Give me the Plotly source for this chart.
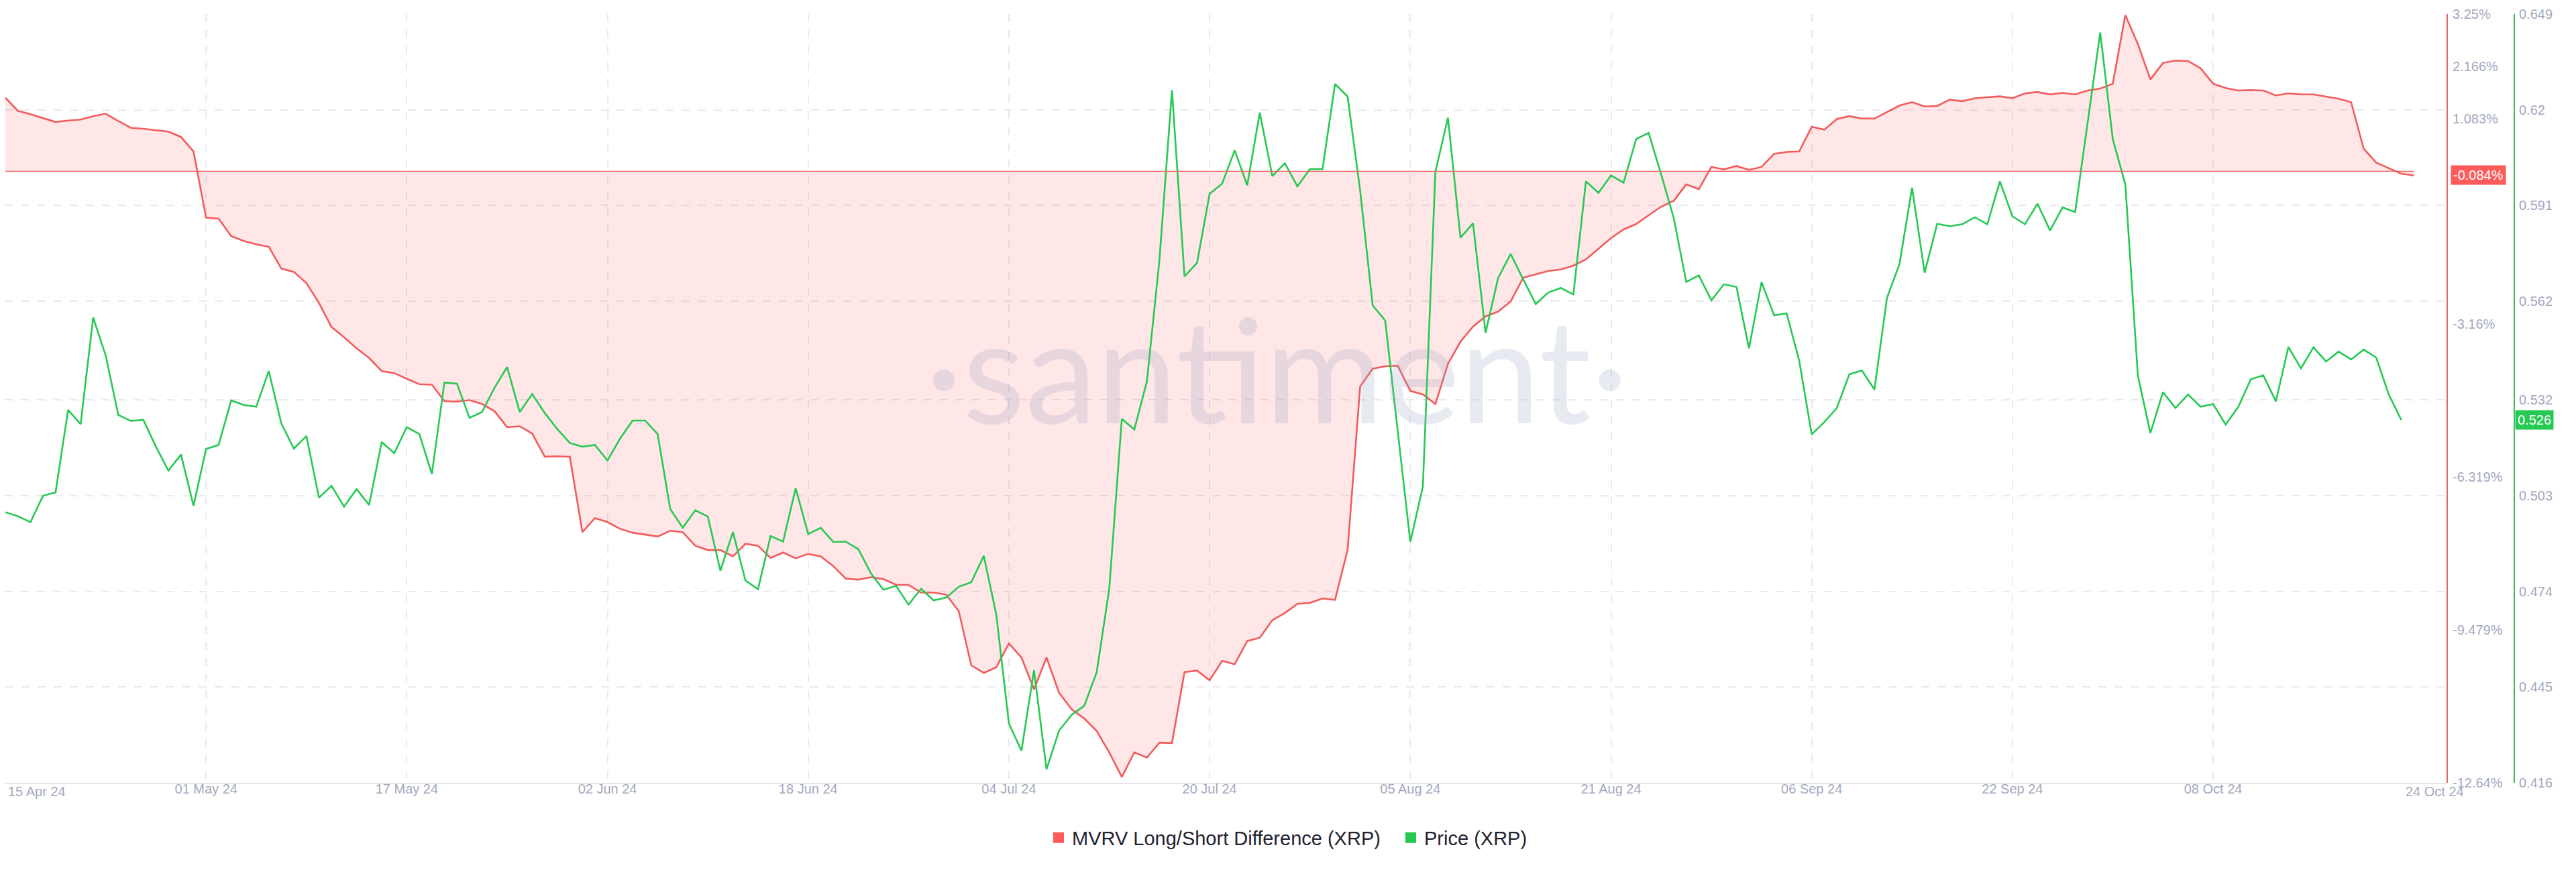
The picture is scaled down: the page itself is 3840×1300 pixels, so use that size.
import pandas as pd
import plotly.graph_objects as go

start_date = "2024-04-15"

mvrv_diff = [
    1.52, 1.25, 1.18, 1.10, 1.02, 1.05, 1.07, 1.14, 1.19, 1.04,
    0.90, 0.88, 0.85, 0.82, 0.71, 0.41, -0.96, -0.98, -1.34, -1.44,
    -1.51, -1.56, -2.01, -2.08, -2.31, -2.72, -3.22, -3.43, -3.66, -3.86,
    -4.13, -4.17, -4.29, -4.40, -4.41, -4.75, -4.76, -4.73, -4.81, -4.96,
    -5.29, -5.27, -5.42, -5.90, -5.89, -5.90, -7.46, -7.17, -7.25, -7.39,
    -7.47, -7.51, -7.55, -7.43, -7.46, -7.74, -7.83, -7.83, -7.96, -7.70,
    -7.74, -7.99, -7.88, -8.00, -7.91, -7.96, -8.16, -8.42, -8.44, -8.39,
    -8.43, -8.55, -8.55, -8.71, -8.71, -8.75, -9.09, -10.21, -10.37, -10.25,
    -9.76, -10.05, -10.71, -10.05, -10.78, -11.12, -11.31, -11.57, -12.01, -12.52,
    -12.01, -12.12, -11.81, -11.82, -10.35, -10.32, -10.52, -10.12, -10.19, -9.71,
    -9.64, -9.28, -9.13, -8.94, -8.92, -8.83, -8.86, -7.83, -4.45, -4.08,
    -4.03, -4.02, -4.54, -4.61, -4.81, -3.98, -3.52, -3.21, -3.00, -2.90,
    -2.69, -2.20, -2.13, -2.06, -2.03, -1.95, -1.82, -1.60, -1.38, -1.20,
    -1.09, -0.91, -0.73, -0.61, -0.27, -0.37, 0.09, 0.04, 0.11, 0.03,
    0.09, 0.36, 0.40, 0.41, 0.92, 0.86, 1.08, 1.14, 1.09, 1.09,
    1.23, 1.36, 1.43, 1.34, 1.35, 1.48, 1.45, 1.51, 1.53, 1.55,
    1.51, 1.61, 1.64, 1.59, 1.62, 1.59, 1.67, 1.71, 1.81, 3.23,
    2.63, 1.90, 2.24, 2.29, 2.28, 2.13, 1.81, 1.72, 1.67, 1.68,
    1.67, 1.57, 1.61, 1.59, 1.59, 1.55, 1.50, 1.43, 0.47, 0.18,
    0.07, -0.05, -0.084,
]

price = [
    0.498, 0.4968, 0.495, 0.503, 0.504, 0.529, 0.5247, 0.557, 0.5455, 0.5275,
    0.5257, 0.526, 0.5179, 0.5106, 0.5155, 0.500, 0.5172, 0.5184, 0.5319, 0.5305,
    0.530, 0.5408, 0.5249, 0.5173, 0.5211, 0.5024, 0.506, 0.4997, 0.505, 0.5002,
    0.5193, 0.5159, 0.5238, 0.5217, 0.5096, 0.5373, 0.537, 0.5266, 0.5284, 0.5358,
    0.542, 0.5284, 0.5338, 0.5281, 0.5232, 0.519, 0.5179, 0.5184, 0.5137, 0.5203,
    0.5258, 0.5258, 0.5217, 0.499, 0.4933, 0.4986, 0.4967, 0.4803, 0.492, 0.4773,
    0.4747, 0.4908, 0.4891, 0.5053, 0.4914, 0.4933, 0.489, 0.4891, 0.4868, 0.4795,
    0.4745, 0.4757, 0.470, 0.4748, 0.4713, 0.4721, 0.4754, 0.4768, 0.4848, 0.4669,
    0.434, 0.4257, 0.4501, 0.4201, 0.4318, 0.4366, 0.4393, 0.4495, 0.4748, 0.5263,
    0.5231, 0.5376, 0.5744, 0.6259, 0.5695, 0.5736, 0.5945, 0.5976, 0.6077, 0.5971,
    0.6191, 0.5999, 0.6038, 0.5968, 0.602, 0.602, 0.6278, 0.624, 0.5956, 0.5607,
    0.5561, 0.5227, 0.489, 0.5058, 0.6012, 0.6176, 0.5812, 0.5856, 0.5524, 0.569,
    0.5763, 0.5686, 0.5611, 0.5646, 0.566, 0.564, 0.5983, 0.5948, 0.6001, 0.5979,
    0.6111, 0.613, 0.6004, 0.5872, 0.5678, 0.5698, 0.5622, 0.5671, 0.5663, 0.5477,
    0.5678, 0.5577, 0.5583, 0.544, 0.5216, 0.5253, 0.5296, 0.5398, 0.541, 0.5352,
    0.563, 0.5733, 0.5964, 0.5706, 0.5854, 0.5847, 0.5853, 0.5874, 0.5853, 0.5983,
    0.5877, 0.5853, 0.5915, 0.5834, 0.5904, 0.589, 0.6161, 0.6434, 0.6111, 0.5974,
    0.5394, 0.522, 0.5344, 0.5296, 0.5337, 0.530, 0.5308, 0.5246, 0.5299, 0.5383,
    0.5395, 0.5316, 0.5481, 0.5416, 0.548, 0.5437, 0.5467, 0.5443, 0.5473, 0.5449,
    0.5337, 0.526,
]

x_tick_dates = ["2024-04-15", "2024-05-01", "2024-05-17", "2024-06-02", "2024-06-18",
                "2024-07-04", "2024-07-20", "2024-08-05", "2024-08-21", "2024-09-06",
                "2024-09-22", "2024-10-08"]
x_tick_labels = ["", "01 May 24", "17 May 24", "02 Jun 24", "18 Jun 24",
                 "04 Jul 24", "20 Jul 24", "05 Aug 24", "21 Aug 24", "06 Sep 24",
                 "22 Sep 24", "08 Oct 24"]
first_label = "15 Apr 24"
last_label = "24 Oct 24"

mvrv_ticks = [3.25, 2.166, 1.083, 0, -3.16, -6.319, -9.479, -12.64]
mvrv_tick_labels = ["3.25%", "2.166%", "1.083%", "0%", "-3.16%", "-6.319%", "-9.479%", "-12.64%"]
price_ticks = [0.649, 0.62, 0.591, 0.562, 0.532, 0.503, 0.474, 0.445, 0.416]
price_tick_labels = ["0.649", "0.62", "0.591", "0.562", "0.532", "0.503", "0.474", "0.445", "0.416"]

mvrv_name = "MVRV Long/Short Difference (XRP)"
price_name = "Price (XRP)"

RED = "#f25b5b"
GREEN = "#26c953"
TICK_COLOR = "#a3a8be"
GRID_COLOR = "#e9e9ee"
FONT = "Liberation Sans"

dates_mvrv = pd.date_range(start_date, periods=len(mvrv_diff), freq="D")
dates_price = pd.date_range(start_date, periods=len(price), freq="D")

W, H = 3840, 1300
plot_right = 3640
green_axis_x = 3740
top, bottom = 13, 1159


def py(pix):
    return (bottom - pix) / (bottom - top)


fig = go.Figure()

fig.add_trace(go.Scatter(
    x=dates_mvrv, y=mvrv_diff, mode="lines", name=mvrv_name,
    line=dict(color=RED, width=2.6), fill="tozeroy",
    fillcolor="rgba(255,90,95,0.15)", yaxis="y", showlegend=False,
))
fig.add_trace(go.Scatter(
    x=dates_price, y=price, mode="lines", name=price_name,
    line=dict(color=GREEN, width=2.6), yaxis="y2", showlegend=False,
))
# legend entries with square swatches
fig.add_trace(go.Scatter(x=[None], y=[None], mode="markers", name=mvrv_name,
                         marker=dict(symbol="square", size=18, color="#ff5b5b"), yaxis="y"))
fig.add_trace(go.Scatter(x=[None], y=[None], mode="markers", name=price_name,
                         marker=dict(symbol="square", size=18, color=GREEN), yaxis="y2"))

x_end = pd.Timestamp(start_date) + pd.Timedelta(days=194.66)

fig.update_layout(
    width=W, height=H,
    margin=dict(l=0, r=0, t=top, b=H - bottom),
    paper_bgcolor="white", plot_bgcolor="white",
    font=dict(family=FONT, size=20, color=TICK_COLOR),
    xaxis=dict(
        type="date", domain=[0, plot_right / W],
        range=[pd.Timestamp(start_date), x_end],
        tickvals=x_tick_dates, ticktext=x_tick_labels,
        showgrid=True, gridcolor=GRID_COLOR, griddash="12px,12px", gridwidth=1.5,
        showline=True, linecolor="#e4e4e8", linewidth=2,
        zeroline=False, ticks="", ticklen=0, ticklabelstandoff=-10,
        tickfont=dict(size=20, color=TICK_COLOR, family=FONT),
        anchor="y",
    ),
    yaxis=dict(
        range=[-12.64, 3.25], side="right", anchor="free", position=plot_right / W,
        tickvals=mvrv_ticks, ticktext=mvrv_tick_labels,
        showgrid=False, zeroline=False,
        showline=True, linecolor="#e06464", linewidth=2, ticks="",
        ticklabelstandoff=3,
        tickfont=dict(size=20, color=TICK_COLOR, family=FONT),
    ),
    yaxis2=dict(
        range=[0.416, 0.649], side="right", anchor="free", position=green_axis_x / W,
        overlaying="y",
        tickvals=price_ticks, ticktext=price_tick_labels,
        showgrid=True, gridcolor=GRID_COLOR, griddash="12px,12px", gridwidth=1.5,
        zeroline=False,
        showline=True, linecolor="#3dbb5e", linewidth=2, ticks="",
        ticklabelstandoff=2,
        tickfont=dict(size=20, color=TICK_COLOR, family=FONT),
    ),
    legend=dict(
        orientation="h", x=1550 / W, xanchor="left", y=py(1241),
        yanchor="middle", font=dict(size=29, color="#1f2230", family=FONT),
        bgcolor="rgba(0,0,0,0)", entrywidth=480, entrywidthmode="pixels",
    ),
    showlegend=True,
)

# zero baseline of the area
fig.add_shape(type="line", xref="x", yref="y",
              x0=dates_mvrv[0], x1=dates_mvrv[-1], y0=0, y1=0,
              line=dict(color=RED, width=1.3))

# watermark
fig.add_annotation(text="·santiment·", xref="paper", yref="paper",
                   x=1895 / W, y=py(540),
                   xanchor="center", yanchor="middle", showarrow=False,
                   font=dict(size=215, color="rgba(150,160,195,0.22)", family="Lato"))

# first / last date labels
fig.add_annotation(text=first_label, xref="paper", yref="paper",
                   x=2 / W, y=py(1172),
                   xanchor="left", yanchor="middle", showarrow=False,
                   font=dict(size=20, color=TICK_COLOR, family=FONT))
fig.add_annotation(text=last_label, xref="paper", yref="paper",
                   x=3576 / W, y=py(1172),
                   xanchor="left", yanchor="middle", showarrow=False,
                   font=dict(size=20, color=TICK_COLOR, family=FONT))

# last-value badges
fig.add_annotation(text="%.3f%%" % mvrv_diff[-1], xref="paper", yref="y",
                   x=3645 / W, y=mvrv_diff[-1], xanchor="left", yanchor="middle",
                   showarrow=False, bgcolor="#ff5b5b", borderpad=3,
                   font=dict(size=20, color="white", family=FONT))
fig.add_annotation(text="%.3f" % price[-1], xref="paper", yref="y2",
                   x=3741 / W, y=price[-1], xanchor="left", yanchor="middle",
                   showarrow=False, bgcolor=GREEN, borderpad=3,
                   font=dict(size=20, color="white", family=FONT))

fig.write_html("out.html")
